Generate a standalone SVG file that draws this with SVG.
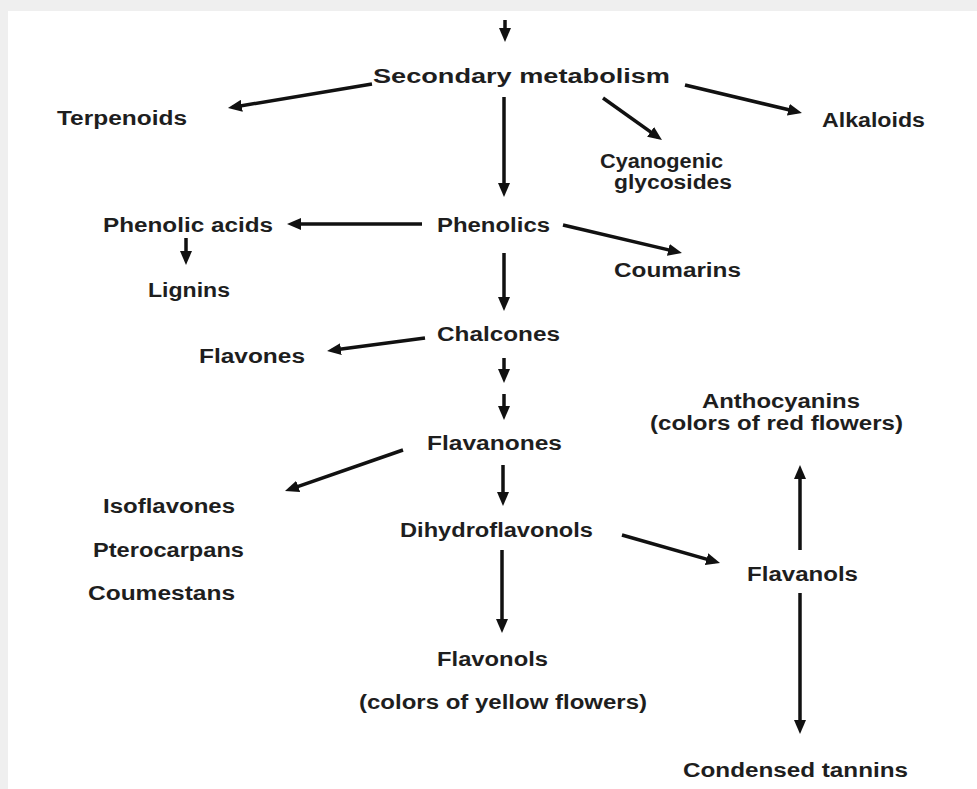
<svg xmlns="http://www.w3.org/2000/svg" width="977" height="789" viewBox="0 0 977 789">
<defs>
<marker id="ah" markerUnits="userSpaceOnUse" markerWidth="14" markerHeight="12" refX="9" refY="6" orient="auto">
<path d="M0,0 L14,6 L0,12 z" fill="#111"/>
</marker>
<style>
text{font-family:"Liberation Sans",Arial,sans-serif;font-size:20px;font-weight:bold;fill:#1e1e1e}
.c line{stroke:#111;stroke-width:3.5;marker-end:url(#ah)}
</style>
</defs>
<rect width="977" height="789" fill="#fff"/>
<rect x="0" y="0" width="977" height="11" fill="#efefef"/>
<rect x="0" y="11" width="8" height="778" fill="#efefef"/>
<g class="c" id="connectors">
<line x1="505" y1="20" x2="505" y2="37"/>
<line x1="504" y1="97" x2="504" y2="192"/>
<line x1="372" y1="84" x2="232.9" y2="107.2"/>
<line x1="685" y1="85" x2="797.1" y2="111.8"/>
<line x1="603" y1="98" x2="657.9" y2="137.1"/>
<line x1="422" y1="224" x2="292" y2="224"/>
<line x1="186" y1="238" x2="186" y2="260"/>
<line x1="563" y1="225" x2="677.1" y2="251.9"/>
<line x1="504" y1="253" x2="504" y2="306"/>
<line x1="425" y1="338" x2="332" y2="350.3"/>
<line x1="504" y1="358" x2="504" y2="378"/>
<line x1="504" y1="394" x2="504" y2="415"/>
<line x1="403" y1="450" x2="289.7" y2="489.4"/>
<line x1="503" y1="465" x2="503" y2="501"/>
<line x1="502" y1="550" x2="502" y2="628"/>
<line x1="622" y1="535" x2="715.2" y2="561.6"/>
<line x1="800" y1="550" x2="800" y2="470"/>
<line x1="800" y1="593" x2="800" y2="729"/>
</g>
<g id="secondary"><text x="373" y="83" textLength="297" lengthAdjust="spacingAndGlyphs">Secondary metabolism</text></g>
<g id="terpenoids"><text x="57" y="125" textLength="130" lengthAdjust="spacingAndGlyphs">Terpenoids</text></g>
<g id="alkaloids"><text x="822" y="127" textLength="103" lengthAdjust="spacingAndGlyphs">Alkaloids</text></g>
<g id="cyanogenic"><text x="600" y="168" textLength="123" lengthAdjust="spacingAndGlyphs">Cyanogenic</text><text x="614" y="189" textLength="118" lengthAdjust="spacingAndGlyphs">glycosides</text></g>
<g id="phenolic-acids"><text x="103" y="232" textLength="170" lengthAdjust="spacingAndGlyphs">Phenolic acids</text></g>
<g id="phenolics"><text x="437" y="232" textLength="113" lengthAdjust="spacingAndGlyphs">Phenolics</text></g>
<g id="lignins"><text x="148" y="297" textLength="82" lengthAdjust="spacingAndGlyphs">Lignins</text></g>
<g id="coumarins"><text x="614" y="277" textLength="127" lengthAdjust="spacingAndGlyphs">Coumarins</text></g>
<g id="chalcones"><text x="437" y="341" textLength="123" lengthAdjust="spacingAndGlyphs">Chalcones</text></g>
<g id="flavones"><text x="199" y="363" textLength="106" lengthAdjust="spacingAndGlyphs">Flavones</text></g>
<g id="anthocyanins"><text x="702" y="408" textLength="158" lengthAdjust="spacingAndGlyphs">Anthocyanins</text><text x="650" y="430" textLength="253" lengthAdjust="spacingAndGlyphs">(colors of red flowers)</text></g>
<g id="flavanones"><text x="427" y="450" textLength="135" lengthAdjust="spacingAndGlyphs">Flavanones</text></g>
<g id="isoflavones"><text x="103" y="513" textLength="132" lengthAdjust="spacingAndGlyphs">Isoflavones</text><text x="93" y="557" textLength="151" lengthAdjust="spacingAndGlyphs">Pterocarpans</text><text x="88" y="600" textLength="147" lengthAdjust="spacingAndGlyphs">Coumestans</text></g>
<g id="dihydroflavonols"><text x="400" y="537" textLength="193" lengthAdjust="spacingAndGlyphs">Dihydroflavonols</text></g>
<g id="flavanols"><text x="747" y="581" textLength="111" lengthAdjust="spacingAndGlyphs">Flavanols</text></g>
<g id="flavonols"><text x="437" y="666" textLength="111" lengthAdjust="spacingAndGlyphs">Flavonols</text><text x="359" y="709" textLength="288" lengthAdjust="spacingAndGlyphs">(colors of yellow flowers)</text></g>
<g id="condensed"><text x="683" y="777" textLength="225" lengthAdjust="spacingAndGlyphs">Condensed tannins</text></g>
</svg>
